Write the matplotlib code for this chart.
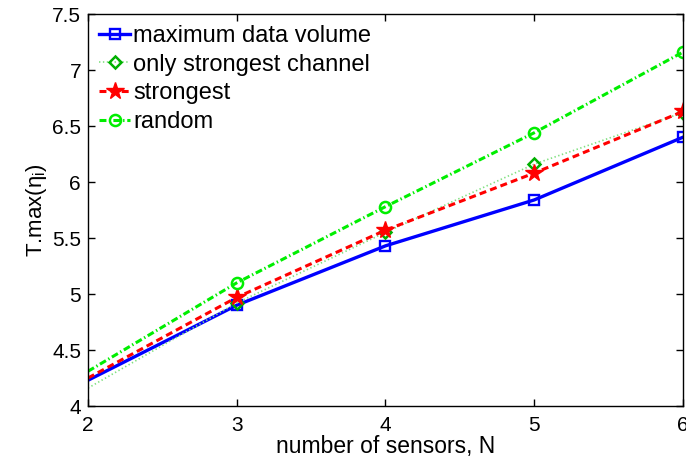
import matplotlib
matplotlib.use("Agg")
import matplotlib.pyplot as plt

plt.rcParams['font.family'] = ['Liberation Sans', 'DejaVu Sans']
plt.rcParams['mathtext.fontset'] = 'custom'
plt.rcParams['mathtext.rm'] = 'Liberation Sans'
plt.rcParams['mathtext.it'] = 'Liberation Sans'
plt.rcParams['lines.scale_dashes'] = False

# Number of sensors
sensors = [2, 3, 4, 5, 6]

# Series values
max_data_volume = [4.23, 4.90, 5.43, 5.84, 6.40]
only_strongest_channel = [4.16, 4.92, 5.55, 6.16, 6.62]
strongest = [4.25, 4.97, 5.57, 6.08, 6.63]
random_sel = [4.31, 5.10, 5.78, 6.44, 7.16]

xticks = [2, 3, 4, 5, 6]
yticks = [4, 4.5, 5, 5.5, 6, 6.5, 7, 7.5]
ytick_labels = ['4', '4.5', '5', '5.5', '6', '6.5', '7', '7.5']

fig = plt.figure(figsize=(6.86, 4.61), dpi=100)
ax = fig.add_axes([0.1283, 0.1193, 0.8673, 0.8503])

mk = [1, 2, 3, 4]
ax.plot(sensors, max_data_volume, '-', color='#0000ff', lw=2.4,
        marker='s', ms=6.5, mfc='none', mew=1.7, markevery=mk,
        label='maximum data volume')
ax.plot(sensors, only_strongest_channel, color='#80e080', lw=1.2,
        dashes=(1, 1.8),
        marker='D', ms=6.5, mfc='none', mec='#00b000', mew=1.8, markevery=mk,
        label='only strongest channel')
ax.plot(sensors, strongest, color='#ff0000', lw=2.2, dashes=(5, 3),
        marker='*', ms=13, mfc='#ff0000', mec='#ff0000', markevery=mk,
        label='strongest')
ax.plot(sensors, random_sel, color='#00ee00', lw=2.2, dashes=(5, 2, 1, 2),
        marker='o', ms=8, mfc='none', mew=1.8, markevery=mk,
        label='random')

ax.set_xlim(2, 6)
ax.set_ylim(4, 7.5)
ax.set_xticks(xticks)
ax.set_yticks(yticks)
ax.set_yticklabels(ytick_labels)
ax.tick_params(direction='in', top=True, right=True, labelsize=15,
               length=5, width=1)
ax.tick_params(axis='x', pad=7)
ax.tick_params(axis='y', pad=5)
for s in ax.spines.values():
    s.set_linewidth(1)

ax.set_xlabel('number of sensors, N', fontsize=16.5, labelpad=0)
ax.set_ylabel(r'T.max($\eta_\mathrm{i}$)', fontsize=16, labelpad=2)

ax.legend(loc='upper left', frameon=False, fontsize=17, handlelength=1.3,
          handletextpad=0.15, labelspacing=0.28, borderaxespad=0.0,
          borderpad=0.3, bbox_to_anchor=(0.007, 0.99))

fig.savefig('out.png', dpi=100)
